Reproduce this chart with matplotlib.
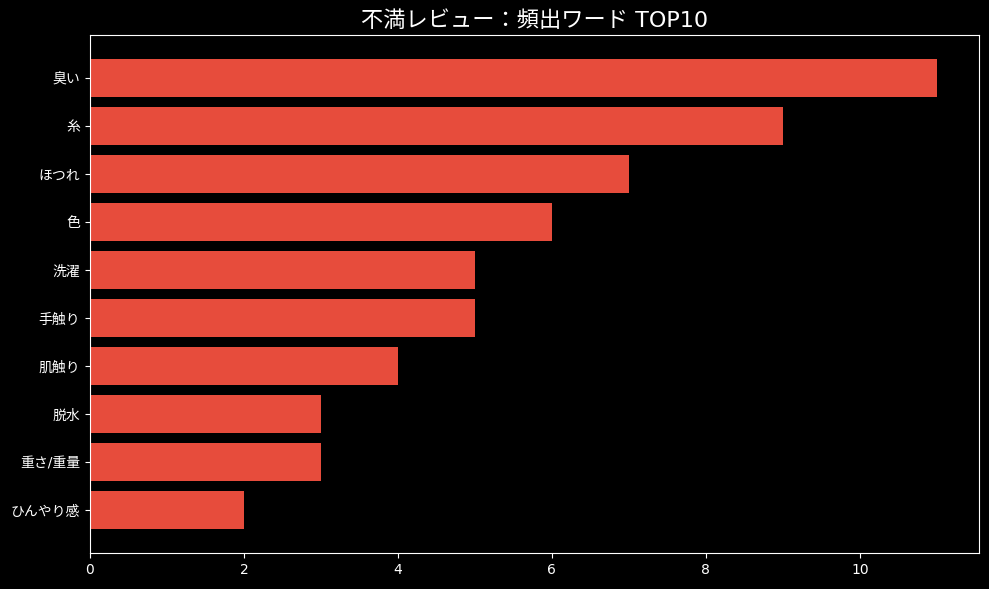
import matplotlib
matplotlib.use('Agg')
import matplotlib.pyplot as plt

plt.style.use('dark_background')
plt.rcParams['font.family'] = ['DejaVu Sans', 'Noto Sans CJK JP']

# 不満レビューの頻出ワード
words = ['臭い', '糸', 'ほつれ', '色', '洗濯', '手触り', '肌触り', '脱水', '重さ/重量', 'ひんやり感']
counts = [11, 9, 7, 6, 5, 5, 4, 3, 3, 2]

fig, ax = plt.subplots(figsize=(9.89, 5.89), dpi=100)
fig.subplots_adjust(left=0.091, right=0.990, top=0.9406, bottom=0.0611)

ax.barh(words[::-1], counts[::-1], color='#e74c3c')
ax.set_title('不満レビュー：頻出ワード TOP10', fontsize=16)

plt.savefig('out.png', dpi=100, facecolor='black')
plt.close()
